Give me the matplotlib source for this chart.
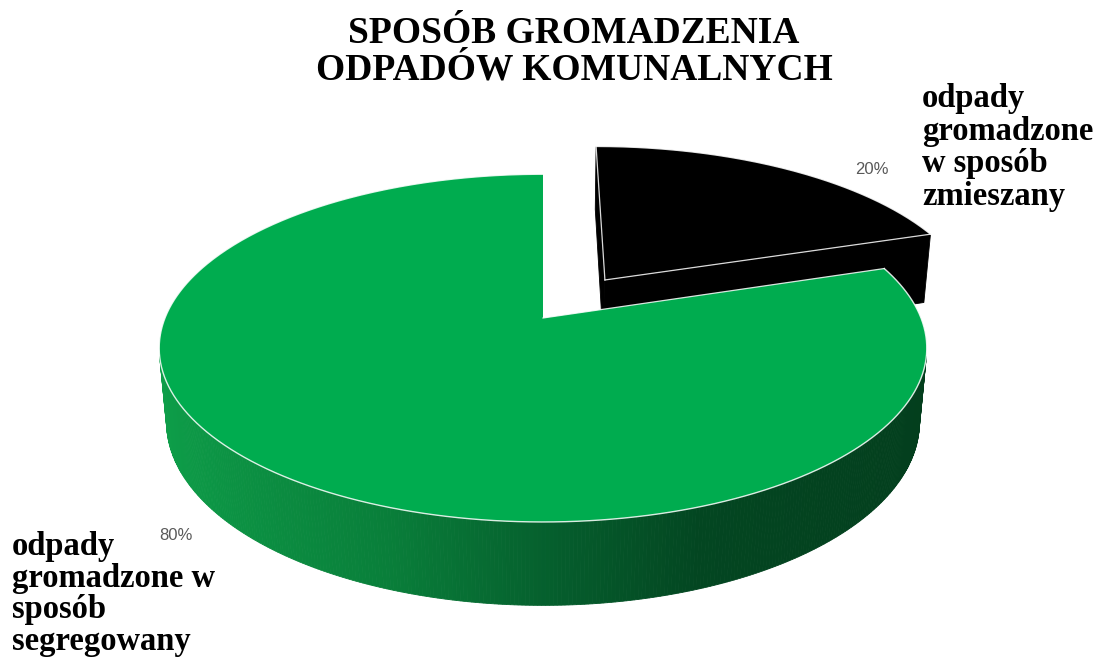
import numpy as np
import matplotlib.pyplot as plt
from matplotlib.patches import Polygon

# data
title_lines = ['SPOSÓB GROMADZENIA', 'ODPADÓW KOMUNALNYCH']
categories = ['odpady gromadzone w sposób zmieszany',
              'odpady gromadzone w sposób segregowany']
label_lines = [['odpady', 'gromadzone', 'w sposób', 'zmieszany'],
               ['odpady', 'gromadzone w', 'sposób', 'segregowany']]
values = [20, 80]
explode = [0.29, 0.0]
top_colors = ['#000000', '#00AC4F']

# view of the 3d pie
phi = np.radians(26.5)
D = 5.17
h = 0.22
scale = 378.0
cx, cy = 543, 318
W, H = 1100, 658


def proj(x, y, z):
    w = D + y * np.cos(phi) - z * np.sin(phi)
    return x * D / w, (y * np.sin(phi) + z * np.cos(phi)) * D / w


cam = np.array([0.0, -D * np.cos(phi), D * np.sin(phi)])


def facing(n, p):
    return np.dot(n, cam - p) > 0


# side colour of the green slice, by horizontal position on the rim
stop_x = [-1.0, -0.35, 0.05, 0.35, 1.0]
stop_c = np.array([[14, 160, 74], [9, 127, 58], [5, 92, 44], [3, 70, 33], [3, 62, 29]]) / 255.0


def side_color(c):
    return [np.interp(c, stop_x, stop_c[:, k]) for k in range(3)]


def fx(px):
    return px / W


def fy(py):
    return 1 - py / H


fig = plt.figure(figsize=(11, 6.58), dpi=100)
ax = fig.add_axes([0, 0, 1, 1])
ax.set_xlim(-cx / scale, (W - cx) / scale)
ax.set_ylim(-(H - cy) / scale, cy / scale)
ax.axis('off')

total = sum(values)
start = 90.0
for i, v in enumerate(values):
    span = 360.0 * v / total
    t0 = np.radians(start)
    t1 = np.radians(start - span)
    mid = (t0 + t1) / 2
    ox, oy = explode[i] * np.cos(mid), explode[i] * np.sin(mid)
    ts = np.linspace(t0, t1, max(int(span), 8) * 2)

    faces = []
    # rim quads
    for a, b in zip(ts[:-1], ts[1:]):
        m = (a + b) / 2
        n = np.array([np.cos(m), np.sin(m), 0])
        p = np.array([ox + np.cos(m), oy + np.sin(m), -h / 2])
        if facing(n, p):
            pts = [proj(ox + np.cos(a), oy + np.sin(a), 0), proj(ox + np.cos(b), oy + np.sin(b), 0),
                   proj(ox + np.cos(b), oy + np.sin(b), -h), proj(ox + np.cos(a), oy + np.sin(a), -h)]
            col = top_colors[i] if i == 0 else side_color(np.cos(m))
            faces.append((p[1], pts, col))
    # cut faces
    for t, n in [(t0, np.array([-np.sin(t0), np.cos(t0), 0])),
                 (t1, np.array([np.sin(t1), -np.cos(t1), 0]))]:
        p = np.array([ox + 0.5 * np.cos(t), oy + 0.5 * np.sin(t), -h / 2])
        if facing(n, p):
            pts = [proj(ox, oy, 0), proj(ox + np.cos(t), oy + np.sin(t), 0),
                   proj(ox + np.cos(t), oy + np.sin(t), -h), proj(ox, oy, -h)]
            col = top_colors[i] if i == 0 else side_color(np.cos(t))
            faces.append((p[1], pts, col))
    faces.sort(key=lambda f: -f[0])
    for _, pts, col in faces:
        ax.add_patch(Polygon(pts, closed=True, facecolor=col, edgecolor=col, lw=0.6))

    # top face
    top = [proj(ox, oy, 0)] + [proj(ox + np.cos(t), oy + np.sin(t), 0) for t in ts]
    ax.add_patch(Polygon(top, closed=True, facecolor=top_colors[i], edgecolor='none'))
    arc = np.array(top[1:])
    ax.plot(arc[:, 0], arc[:, 1], color='white', lw=1.0, alpha=0.85)
    apex = proj(ox, oy, 0)
    edges = [t0, t1] if i == 0 else [t0]
    for t in edges:
        e = proj(ox + np.cos(t), oy + np.sin(t), 0)
        ax.plot([apex[0], e[0]], [apex[1], e[1]], color='white', lw=0.9, alpha=0.85)

    start -= span

# title
for k, line in enumerate(title_lines):
    fig.text(fx(574), fy(43 + 37 * k), line, ha='center', va='baseline',
             fontsize=27, fontweight='bold', family='Liberation Serif', color='black')

# percentage labels
pct_pos = [(872, 170), (176, 535)]
for v, (px, py) in zip(values, pct_pos):
    fig.text(fx(px), fy(py), f'{v / total:.0%}', ha='center', va='center',
             fontsize=12, family='Liberation Sans', color='#595959')

# category labels
label_pos = [(922, 107), (12, 555)]
label_step = [32.7, 31.7]
for lines, (px, py), st in zip(label_lines, label_pos, label_step):
    for k, line in enumerate(lines):
        fig.text(fx(px), fy(py + st * k), line, ha='left', va='baseline',
                 fontsize=23.5, fontweight='bold', family='Liberation Serif', color='black')

fig.savefig('out.png', dpi=100)
